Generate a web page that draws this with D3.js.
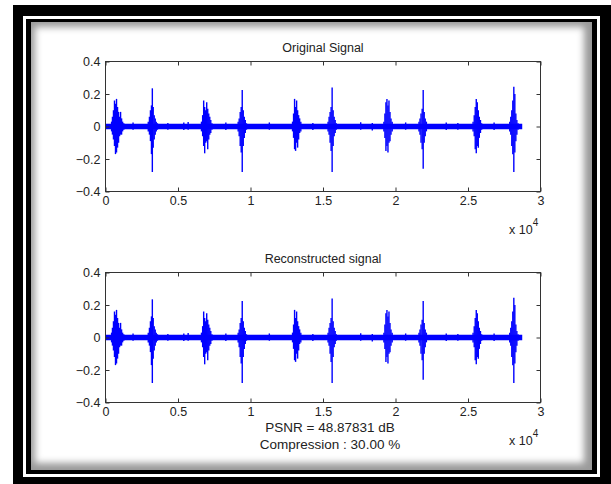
<!DOCTYPE html>
<head>
	<meta charset="utf-8">
	<title>Original vs reconstructed signal</title>
	<script src="https://d3js.org/d3.v7.min.js"></script>
	<style>
	body { margin:0; background:#fff; }
	svg text { font-family:"Liberation Sans", Arial, sans-serif; fill:#222; }
	.tick text { font-size:12.5px; }
	.tick line { stroke:#333; }
	.box { fill:none; stroke:#333; stroke-width:1; }
	.title { font-size:12.5px; }
	.note { font-size:13.5px; }
	</style>
</head>
<body>
<div class="chartContainer"></div>
<script>
	//values: sample index, upper and lower extent of the waveform
	var xTicks=[0,5000,10000,15000,20000,25000,30000];
	var yTicks=[-0.4,-0.2,0,0.2,0.4];
	var titles=["Original Signal","Reconstructed signal"];
	var notes=["PSNR = 48.87831 dB","Compression : 30.00 %"];

	//the noise floor runs as a thin band over the whole recording
	var baselineEnd=28740;
	var baselineAmp=0.017;

	var burst1=[[420,0.03,-0.03],[480,0.06,-0.05],[550,0.10,-0.08],[620,0.16,-0.12],[690,0.14,-0.17],[760,0.17,-0.16],[830,0.12,-0.13],[900,0.09,-0.10],[970,0.06,-0.06],[1040,0.09,-0.05],[1110,0.05,-0.05],[1180,0.03,-0.03],[1260,0.02,-0.02]];
	var burst2=[[2950,0.03,-0.03],[3030,0.06,-0.05],[3100,0.10,-0.09],[3170,0.13,-0.17],[3230,0.235,-0.28],[3290,0.12,-0.13],[3360,0.07,-0.08],[3430,0.05,-0.05],[3500,0.03,-0.03],[3580,0.02,-0.02]];
	var burst3=[[6620,0.03,-0.03],[6700,0.07,-0.06],[6770,0.16,-0.12],[6840,0.12,-0.165],[6910,0.10,-0.10],[6980,0.15,-0.09],[7050,0.11,-0.14],[7120,0.08,-0.08],[7190,0.06,-0.05],[7260,0.04,-0.04],[7340,0.02,-0.02]];
	var burst4=[[9150,0.03,-0.03],[9220,0.05,-0.06],[9290,0.09,-0.12],[9360,0.12,-0.16],[9430,0.225,-0.28],[9500,0.10,-0.12],[9570,0.06,-0.07],[9640,0.04,-0.04],[9720,0.02,-0.02]];
	var burst5=[[12900,0.03,-0.03],[12970,0.08,-0.07],[13040,0.17,-0.14],[13110,0.12,-0.15],[13180,0.16,-0.10],[13250,0.10,-0.13],[13320,0.07,-0.08],[13390,0.05,-0.04],[13470,0.03,-0.03]];
	var burst6=[[15350,0.03,-0.03],[15420,0.06,-0.05],[15490,0.09,-0.10],[15560,0.12,-0.15],[15630,0.24,-0.28],[15700,0.10,-0.12],[15770,0.06,-0.06],[15840,0.04,-0.04],[15920,0.02,-0.02]];
	var burst7=[[19200,0.03,-0.03],[19270,0.08,-0.07],[19340,0.15,-0.15],[19410,0.17,-0.12],[19480,0.13,-0.16],[19550,0.16,-0.10],[19620,0.09,-0.09],[19690,0.05,-0.05],[19770,0.03,-0.03]];
	var burst8=[[21620,0.03,-0.03],[21690,0.05,-0.05],[21760,0.08,-0.10],[21840,0.11,-0.14],[21910,0.225,-0.26],[21980,0.09,-0.10],[22050,0.05,-0.06],[22130,0.03,-0.03]];
	var burst9=[[25350,0.03,-0.03],[25430,0.07,-0.06],[25500,0.12,-0.14],[25570,0.17,-0.165],[25640,0.15,-0.12],[25710,0.10,-0.13],[25780,0.06,-0.07],[25860,0.04,-0.04],[25940,0.02,-0.02]];
	var burst10=[[27880,0.03,-0.03],[27950,0.06,-0.05],[28020,0.10,-0.12],[28090,0.16,-0.17],[28160,0.245,-0.28],[28230,0.20,-0.16],[28300,0.08,-0.09],[28370,0.04,-0.05],[28450,0.02,-0.02]];
	//small blips on the noise floor
	var blips=[[1900,0.025,-0.02],[4300,0.022,-0.02],[5400,0.025,-0.022],[5700,0.028,-0.02],[8300,0.024,-0.022],[11300,0.025,-0.02],[14300,0.022,-0.022],[17600,0.026,-0.02],[18400,0.022,-0.024],[20700,0.025,-0.02],[23500,0.024,-0.022],[24300,0.022,-0.02],[26800,0.025,-0.022]];

	var original=[].concat(burst1,burst2,burst3,burst4,burst5,burst6,burst7,burst8,burst9,burst10,blips);
	//at 30% compression the reconstruction is visually identical to the original
	var reconstructed=original;

	var W=611, H=484;
	var svg=d3.select(".chartContainer").append("svg")
		.attr("width",W).attr("height",H);

	var defs=svg.append("defs");
	defs.append("filter").attr("id","soft")
		.append("feGaussianBlur").attr("stdDeviation",3.5);
	defs.append("clipPath").attr("id","inner")
		.append("rect").attr("x",31).attr("y",22).attr("width",561).attr("height",448);

	//picture frame: black, thin white line, black, then the shaded panel
	svg.append("rect").attr("x",13).attr("y",5).attr("width",598).attr("height",479).attr("fill","#000");
	svg.append("rect").attr("x",23).attr("y",16).attr("width",577).attr("height",461).attr("fill","#fff");
	svg.append("rect").attr("x",26).attr("y",19).attr("width",571).attr("height",455).attr("fill","#000");
	var panel=svg.append("g").attr("clip-path","url(#inner)");
	panel.append("rect").attr("x",31).attr("y",22).attr("width",561).attr("height",448).attr("fill","#9a9a9a");
	panel.append("rect").attr("x",35).attr("y",27).attr("width",549).attr("height",436)
		.attr("fill","#fff").attr("filter","url(#soft)");

	var drawPlot=function(top,bottom,title,cols) {
		var x=d3.scaleLinear().domain([0,30000]).range([105.5,540.5]);
		var y=d3.scaleLinear().domain([-0.4,0.4]).range([bottom,top]);
		var g=svg.append("g");

		g.append("rect").attr("x",x(0)).attr("y",y(0.4))
			.attr("width",x(30000)-x(0)).attr("height",y(-0.4)-y(0.4))
			.attr("fill","#fff");

		//noise floor band
		g.append("rect").attr("x",x(0)).attr("y",y(baselineAmp))
			.attr("width",x(baselineEnd)-x(0)).attr("height",y(-baselineAmp)-y(baselineAmp))
			.attr("fill","#0000ff");

		g.selectAll(".col").data(cols).enter()
			.append("line").attr("class","col")
			.attr("x1",function(d){return x(d[0]);})
			.attr("x2",function(d){return x(d[0]);})
			.attr("y1",function(d){return y(d[1]);})
			.attr("y2",function(d){return y(d[2]);})
			.attr("stroke","#0000ff").attr("stroke-width",1.4);

		var fmt=function(d){return String(d/1e4);};
		var ax;
		ax=g.append("g").attr("transform","translate(0,"+y(-0.4)+")")
			.call(d3.axisBottom(x).tickValues(xTicks).tickFormat(fmt).tickSizeInner(-4).tickSizeOuter(0).tickPadding(5));
		ax.select(".domain").remove();
		ax=g.append("g").attr("transform","translate(0,"+y(0.4)+")")
			.call(d3.axisTop(x).tickValues(xTicks).tickFormat("").tickSizeInner(-4).tickSizeOuter(0));
		ax.select(".domain").remove();
		ax=g.append("g").attr("transform","translate("+x(0)+",0)")
			.call(d3.axisLeft(y).tickValues(yTicks).tickFormat(d3.format("~g")).tickSizeInner(-4).tickSizeOuter(0).tickPadding(5));
		ax.select(".domain").remove();
		ax=g.append("g").attr("transform","translate("+x(30000)+",0)")
			.call(d3.axisRight(y).tickValues(yTicks).tickFormat("").tickSizeInner(-4).tickSizeOuter(0));
		ax.select(".domain").remove();
		g.selectAll(".tick text").attr("fill","#222").style("font-family","'Liberation Sans', Arial, sans-serif");
		g.selectAll(".tick line").attr("stroke","#333");

		g.append("rect").attr("class","box").attr("x",x(0)).attr("y",y(0.4))
			.attr("width",x(30000)-x(0)).attr("height",y(-0.4)-y(0.4));

		g.append("text").attr("class","title")
			.attr("x",(x(0)+x(30000))/2).attr("y",y(0.4)-10)
			.attr("text-anchor","middle").text(title);

		var ex=g.append("text").attr("class","tick-exp")
			.attr("x",509).attr("y",y(-0.4)+42).style("font-size","12.5px").text("x 10");
		ex.append("tspan").attr("dy",-8).style("font-size","10px").text("4");
		return y;
	};

	drawPlot(61.5,191.5,titles[0],original);
	var yLow=drawPlot(272.5,402.5,titles[1],reconstructed);

	svg.selectAll(".note").data(notes).enter()
		.append("text").attr("class","note")
		.attr("x",330).attr("y",function(d,i){return yLow(-0.4)+29.5+i*17;})
		.attr("text-anchor","middle").text(function(d){return d;});
</script>
</body>
</html>
